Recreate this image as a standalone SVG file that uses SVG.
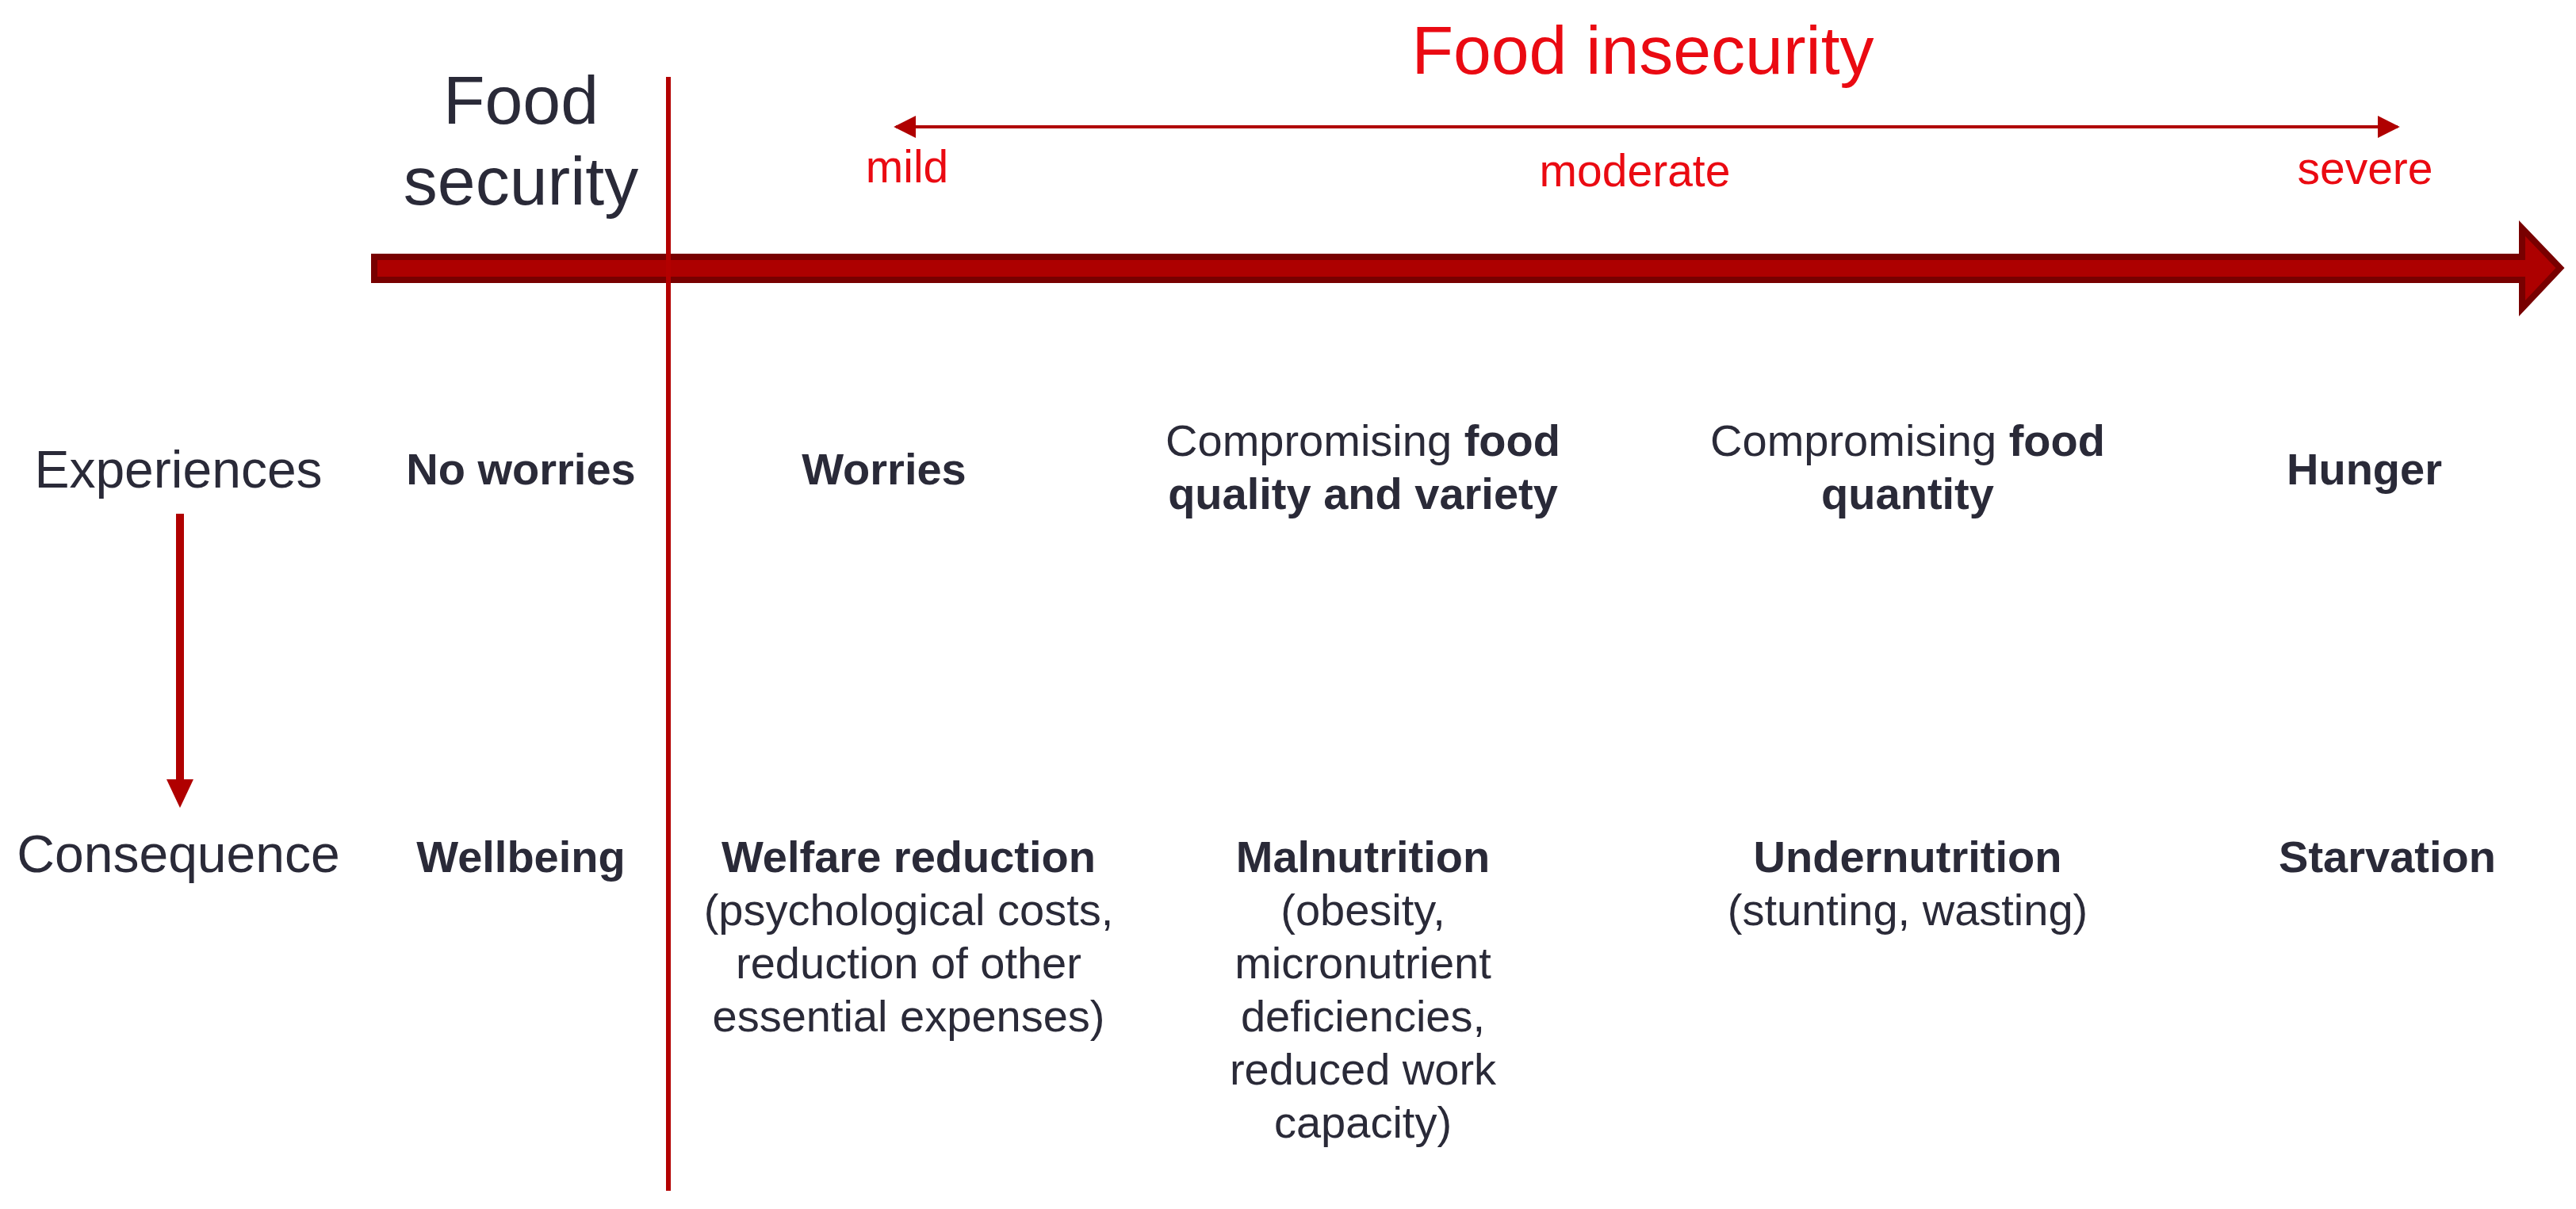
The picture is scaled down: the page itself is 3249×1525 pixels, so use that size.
<svg xmlns="http://www.w3.org/2000/svg" width="3249" height="1525" viewBox="0 0 3249 1525">
<defs>
<style>
text{font-family:"Liberation Sans",Arial,sans-serif;fill:#2a2a38}
.b{font-weight:bold}
.t{font-size:56px;text-anchor:middle}
.lab{font-size:66px;text-anchor:middle}
.big{font-size:86px;text-anchor:middle}
.red{fill:#ea0a12}
.sev{font-size:57px;text-anchor:middle;fill:#ea0a12}
.conn{fill:#b00000}
</style>
<marker id="ah" viewBox="0 0 10 10" refX="9" refY="5" markerWidth="7" markerHeight="7" markerUnits="strokeWidth" orient="auto-start-reverse">
<path d="M0,0 L10,5 L0,10 Z" fill="#b00000"/>
</marker>
</defs>
<rect width="3249" height="1525" fill="#ffffff"/>

<g id="connectors">
<path id="main-axis" d="M472,324 L3181,324 L3181,288 L3229,338 L3181,389 L3181,353 L472,353 Z" fill="#ad0000" stroke="#780000" stroke-width="8" stroke-linejoin="miter"/>
<line id="divider" x1="843" y1="97" x2="843" y2="1502" stroke="#b30000" stroke-width="6"/>
<line id="severity-range" x1="1130" y1="160" x2="3024" y2="160" stroke="#b00000" stroke-width="4" marker-start="url(#ah)" marker-end="url(#ah)"/>
<g id="exp-to-cons">
<line x1="227" y1="648" x2="227" y2="986" stroke="#b00000" stroke-width="10"/>
<polygon class="conn" points="210,983 244,983 227,1019"/>
</g>
</g>

<g id="title-insecurity"><text class="big red" x="2072" y="93">Food insecurity</text></g>
<g id="title-security"><text class="big" x="657" y="156">Food</text><text class="big" x="657" y="258">security</text></g>
<g id="label-mild"><text class="sev" x="1144" y="230">mild</text></g>
<g id="label-moderate"><text class="sev" x="2062" y="235">moderate</text></g>
<g id="label-severe"><text class="sev" x="2983" y="232">severe</text></g>

<g id="row-experiences"><text class="lab" x="225" y="615">Experiences</text></g>
<g id="row-consequence"><text class="lab" x="225" y="1100">Consequence</text></g>

<g id="exp-no-worries"><text class="t b" x="657" y="611">No worries</text></g>
<g id="exp-worries"><text class="t b" x="1115" y="611">Worries</text></g>
<g id="exp-quality"><text class="t" x="1719" y="575">Compromising <tspan class="b">food</tspan></text><text class="t b" x="1719" y="642">quality and variety</text></g>
<g id="exp-quantity"><text class="t" x="2406" y="575">Compromising <tspan class="b">food</tspan></text><text class="t b" x="2406" y="642">quantity</text></g>
<g id="exp-hunger"><text class="t b" x="2982" y="611">Hunger</text></g>

<g id="cons-wellbeing"><text class="t b" x="657" y="1100">Wellbeing</text></g>
<g id="cons-welfare"><text class="t b" x="1146" y="1100">Welfare reduction</text><text class="t" x="1146" y="1167">(psychological costs,</text><text class="t" x="1146" y="1234">reduction of other</text><text class="t" x="1146" y="1301">essential expenses)</text></g>
<g id="cons-malnutrition"><text class="t b" x="1719" y="1100">Malnutrition</text><text class="t" x="1719" y="1167">(obesity,</text><text class="t" x="1719" y="1234">micronutrient</text><text class="t" x="1719" y="1301">deficiencies,</text><text class="t" x="1719" y="1368">reduced work</text><text class="t" x="1719" y="1435">capacity)</text></g>
<g id="cons-undernutrition"><text class="t b" x="2406" y="1100">Undernutrition</text><text class="t" x="2406" y="1167">(stunting, wasting)</text></g>
<g id="cons-starvation"><text class="t b" x="3011" y="1100">Starvation</text></g>
</svg>
